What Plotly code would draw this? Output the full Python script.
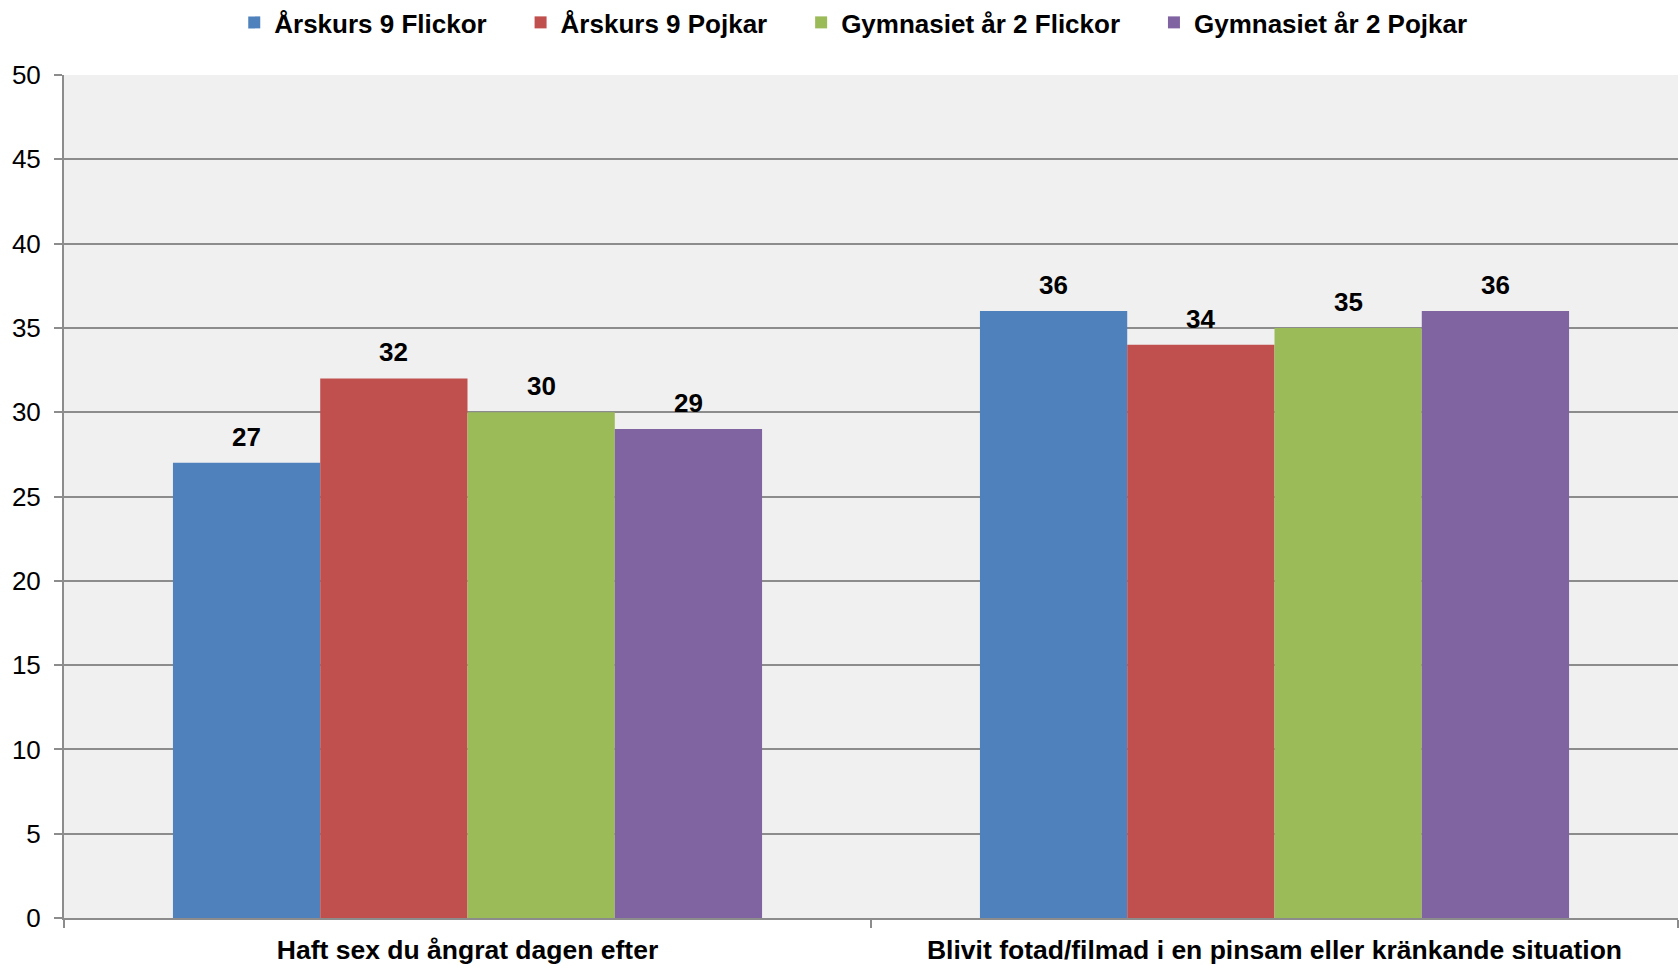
import plotly.graph_objects as go

categories = ["Haft sex du ångrat dagen efter",
              "Blivit fotad/filmad i en pinsam eller kränkande situation"]
series_names = ["Årskurs 9 Flickor", "Årskurs 9 Pojkar",
                "Gymnasiet år 2 Flickor", "Gymnasiet år 2 Pojkar"]
arskurs9_flickor = [27, 36]
arskurs9_pojkar = [32, 34]
gymnasiet2_flickor = [30, 35]
gymnasiet2_pojkar = [29, 36]
series_values = [arskurs9_flickor, arskurs9_pojkar, gymnasiet2_flickor, gymnasiet2_pojkar]
colors = ["#4F81BD", "#C0504D", "#9BBB59", "#8064A2"]

FONT = "Liberation Sans, Arial, sans-serif"
PAD = "\u00a0" * 4

W, H = 1680, 966
L, R, T, B = 64, 2, 75, 48

fig = go.Figure()
for i, (name, vals, col) in enumerate(zip(series_names, series_values, colors)):
    label = name + (PAD if i < len(series_names) - 1 else "")
    fig.add_trace(go.Bar(name=label, x=categories, y=vals, marker_color=col,
                         marker_line_width=0))

# data labels as annotations
plot_w = W - L - R
cat_w = plot_w / len(categories)
bargap = 0.27
bar_w = cat_w * (1 - bargap) / len(series_names)
for i, vals in enumerate(series_values):
    off = (i - (len(series_names) - 1) / 2) * bar_w
    for c, v in zip(categories, vals):
        fig.add_annotation(x=c, y=v, text=f"<b>{v}</b>", showarrow=False,
                           xshift=off, yshift=9, yanchor="bottom",
                           font=dict(family=FONT, size=26, color="black"))

fig.update_layout(
    width=W, height=H,
    margin=dict(l=L, r=R, t=T, b=B, autoexpand=False),
    barmode="group", bargap=bargap, bargroupgap=0,
    paper_bgcolor="white", plot_bgcolor="#F0F0F0",
    font=dict(family=FONT, size=26, color="black"),
    legend=dict(orientation="h", x=0.489, xanchor="center", y=1.0623, yanchor="middle",
                font=dict(family=FONT, size=26, color="black", weight="bold"),
                itemwidth=30, traceorder="normal"),
    showlegend=True,
)
fig.update_yaxes(range=[0, 50], dtick=5, showgrid=True, gridcolor="#8C8C8C", gridwidth=2,
                 showline=True, linecolor="#8C8C8C", linewidth=2, automargin=False,
                 ticks="outside", ticklen=8, tickcolor="#8C8C8C", tickwidth=2,
                 ticklabelstandoff=8,
                 tickfont=dict(family=FONT, size=26, color="black"), zeroline=False)
fig.update_xaxes(showline=True, linecolor="#8C8C8C", linewidth=2, automargin=False,
                 ticks="outside", tickson="boundaries", ticklen=8, tickcolor="#8C8C8C", tickwidth=2,
                 ticklabelstandoff=7,
                 tickfont=dict(family=FONT, size=26.5, color="black", weight="bold"))

fig.write_html("out.html", config={"displayModeBar": False},
               post_script="document.body.style.margin='0px';document.body.style.overflow='hidden';")
